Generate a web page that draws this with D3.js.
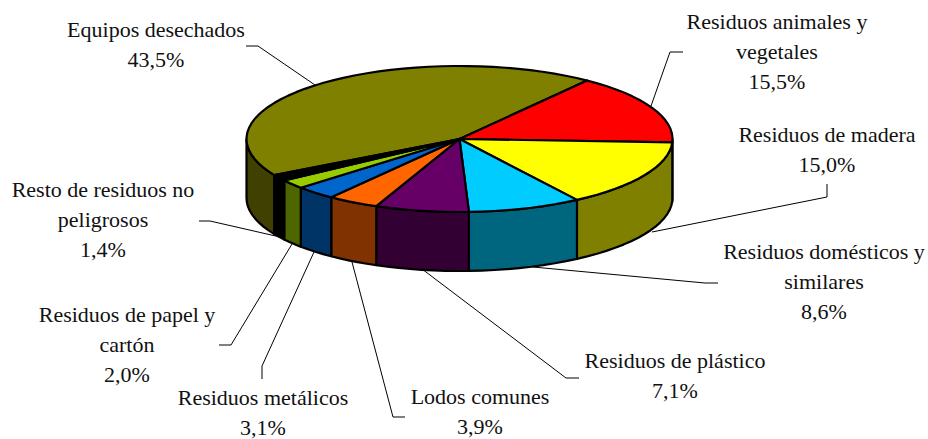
<!DOCTYPE html>
<html lang="es">
<head>
    <meta charset="UTF-8">
    <title>Residuos</title>
    <script src="https://d3js.org/d3.v7.min.js"></script>
    <style>
        html, body { margin: 0; background: #fff; }
        text { font-family: "Liberation Serif", serif; font-size: 22px; fill: #111; text-anchor: middle; }
    </style>
</head>
<body>
    <svg id="chart" width="928" height="439" style="display:block"></svg>
    <script>
        // values start at Equipos so the pie wraps round to the red slice
        const categories = ["Equipos desechados", "Residuos animales y vegetales", "Residuos de madera",
            "Residuos domésticos y similares", "Residuos de plástico", "Lodos comunes", "Residuos metálicos",
            "Residuos de papel y cartón", "Resto de residuos no peligrosos"];
        const values = [43.5, 15.5, 15.0, 8.6, 7.1, 3.9, 3.1, 2.0, 1.4];
        const topColors = ["#808000", "#ff0000", "#ffff00", "#00ccff", "#660066", "#ff6600", "#0066cc", "#99cc00", "#000000"];
        const sideColors = ["#404000", "#800000", "#808000", "#006680", "#330033", "#803300", "#003366", "#4d6600", "#000000"];

        // label text lines, as broken in the picture, and where they sit
        const labelLines = [["Equipos desechados"], ["Residuos animales y", "vegetales"], ["Residuos de madera"],
            ["Residuos domésticos y", "similares"], ["Residuos de plástico"], ["Lodos comunes"], ["Residuos metálicos"],
            ["Residuos de papel y", "cartón"], ["Resto de residuos no", "peligrosos"]];
        // Lodos sits 3px higher than the original so its last line is not cut by the bottom edge
        const labelPos = [[156, 37], [777, 29], [827, 142], [824, 259], [675, 368], [480, 404], [263, 405], [127, 322], [103, 197]];
        const leaders = [
            [[246, 46], [258, 46], [315, 85]],
            [[683, 52], [670, 52], [651, 106]],
            [[827, 184], [827, 197], [652, 232]],
            [[718, 283], [705, 283], [533, 267]],
            [[579, 378], [566, 378], [422, 269]],
            [[405, 417], [393, 417], [352, 262]],
            [[262, 379], [262, 366], [314, 252]],
            [[219, 345], [231, 345], [292, 244]],
            [[199, 221], [210, 221], [280, 237]]
        ];

        const depth = 59;
        const x = d3.scaleLinear().domain([-1, 1]).range([246.5, 672.5]);
        const y = d3.scaleLinear().domain([-1, 1]).range([212, 66]);
        const deg = Math.PI / 180;

        const pie = d3.pie().sort(null).startAngle(-119.6 * deg).endAngle(240.4 * deg);
        const slices = pie(values);

        const rimPoint = (a, dy = 0) => [x(Math.sin(a)), y(Math.cos(a)) + dy];
        const line = d3.line();

        // rim sampled in short chords, the original outline is polygonal too
        function rim(a0, a1, dy = 0) {
            const n = Math.max(1, Math.ceil((a1 - a0) / (3.5 * deg)));
            return d3.range(n + 1).map(i => rimPoint(a0 + (a1 - a0) * i / n, dy));
        }

        const svg = d3.select("#chart");

        // side wall: only the front half of the ellipse shows
        const walls = [];
        slices.forEach((s, i) => {
            for (const k of [0, 1]) {
                const a0 = Math.max(s.startAngle + k * 2 * Math.PI, 90 * deg);
                const a1 = Math.min(s.endAngle + k * 2 * Math.PI, 270 * deg);
                if (a1 > a0) walls.push({ i, a0, a1 });
            }
        });

        svg.selectAll(".wall")
            .data(walls)
            .enter()
            .append("path")
            .attr("class", "wall")
            .attr("d", d => line(rim(d.a0, d.a1).concat(rim(d.a0, d.a1, depth).reverse())) + "Z")
            .attr("fill", d => sideColors[d.i])
            .attr("stroke", "#000")
            .attr("stroke-width", 2.2)
            .attr("stroke-linejoin", "round");

        svg.selectAll(".slice")
            .data(slices)
            .enter()
            .append("path")
            .attr("class", "slice")
            .attr("d", d => line([[x(0), y(0)]].concat(rim(d.startAngle, d.endAngle))) + "Z")
            .attr("fill", (d, i) => topColors[i])
            .attr("stroke", "#000")
            .attr("stroke-width", 2.2)
            .attr("stroke-linejoin", "round");

        svg.selectAll(".leader")
            .data(leaders)
            .enter()
            .append("path")
            .attr("class", "leader")
            .attr("d", d => line(d))
            .attr("fill", "none")
            .attr("stroke", "#000")
            .attr("stroke-width", 1);

        const labels = svg.selectAll(".label")
            .data(categories)
            .enter()
            .append("text")
            .attr("class", "label")
            .attr("x", (d, i) => labelPos[i][0])
            .attr("y", (d, i) => labelPos[i][1]);

        labels.selectAll("tspan")
            .data((d, i) => labelLines[i].concat(values[i].toFixed(1).replace(".", ",") + "%"))
            .enter()
            .append("tspan")
            .attr("x", function () { return this.parentNode.getAttribute("x"); })
            .attr("dy", (d, i) => i ? 30 : 0)
            .text(d => d);
    </script>
</body>
</html>
